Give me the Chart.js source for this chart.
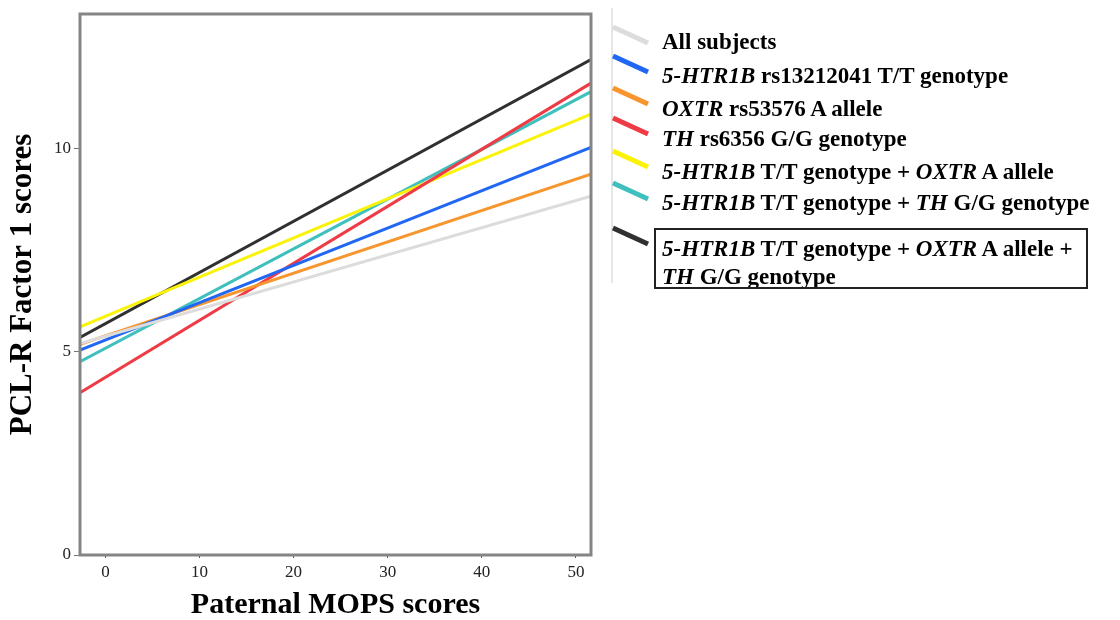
<!DOCTYPE html>
<html>
<head>
<meta charset="utf-8">
<script src="https://cdn.jsdelivr.net/npm/chart.js@4.4.1/dist/chart.umd.min.js"></script>
<style>
body{margin:0;background:#fff}
#wrap{position:relative;width:1120px;height:620px}
#legend{position:absolute;left:0;top:0;width:1120px;height:620px;font-family:"Liberation Serif","Times New Roman",serif;font-weight:bold;font-size:23px;color:#000;pointer-events:none}
.item{position:absolute;left:662px;white-space:nowrap;line-height:23px;height:23px}
.boxed{position:absolute;left:654px;top:228px;width:430px;height:57px;border:2px solid #222}
</style>
</head>
<body>
<div id="wrap">
<canvas id="chart" width="1120" height="620"></canvas>
<div id="legend"></div>
</div>
<script>
// x at the two ends of the plot, fitted line values
const xEnds = [-2.7, 51.6];
const allSubjects = [5.2, 8.82];
const htr1b = [5.04, 10.02];
const oxtr = [5.18, 9.36];
const th = [3.99, 11.6];
const htr1bOxtr = [5.61, 10.84];
const htr1bTh = [4.75, 11.39];
const htr1bOxtrTh = [5.35, 12.18];

const seriesNames = [
  'All subjects',
  '<i>5-HTR1B</i> rs13212041 T/T genotype',
  '<i>OXTR</i> rs53576 A allele',
  '<i>TH</i> rs6356 G/G genotype',
  '<i>5-HTR1B</i> T/T genotype + <i>OXTR</i> A allele',
  '<i>5-HTR1B</i> T/T genotype + <i>TH</i> G/G genotype',
  '<i>5-HTR1B</i> T/T genotype + <i>OXTR</i> A allele +<br><i>TH</i> G/G genotype'
];
const series = [allSubjects, htr1b, oxtr, th, htr1bOxtr, htr1bTh, htr1bOxtrTh];
const colors = ['#dcdcdc', '#2167f3', '#f7952f', '#ee3b45', '#fbf307', '#3fc0bd', '#303030'];

// legend layout
const rowY = [42, 76, 109, 139, 172, 203, 247];
const sampleY = [27, 56, 88, 118, 151, 183, 228];

let datasets = [];
for (let i = 0; i < series.length; i++) {
  datasets.push({
    label: seriesNames[i].replace(/<[^>]+>/g, ''),
    data: xEnds.map((x, j) => ({x: x, y: series[i][j]})),
    borderColor: colors[i],
    backgroundColor: colors[i],
    borderWidth: 3,
    pointRadius: 0,
    showLine: true,
    fill: false
  });
}

let leg = document.getElementById('legend');
for (let i = 0; i < seriesNames.length; i++) {
  let d = document.createElement('div');
  d.className = 'item';
  d.style.top = (rowY[i] - 12) + 'px';
  d.innerHTML = seriesNames[i];
  if (i == seriesNames.length - 1) d.style.lineHeight = '28px';
  leg.appendChild(d);
}
let box = document.createElement('div');
box.className = 'boxed';
leg.appendChild(box);

const frame = {
  id: 'frame',
  afterDatasetsDraw(chart) {
    const ctx = chart.ctx, a = chart.chartArea;
    ctx.save();
    ctx.strokeStyle = '#858585';
    ctx.lineWidth = 3;
    ctx.strokeRect(a.left, a.top, a.right - a.left, a.bottom - a.top);
    ctx.restore();
  },
  afterDraw(chart) {
    const ctx = chart.ctx;
    ctx.save();
    ctx.strokeStyle = '#e6e6e6';
    ctx.lineWidth = 2;
    ctx.beginPath();
    ctx.moveTo(612, 8);
    ctx.lineTo(612, 283);
    ctx.stroke();
    ctx.lineWidth = 5;
    ctx.lineCap = 'butt';
    for (let i = 0; i < colors.length; i++) {
      ctx.strokeStyle = colors[i];
      ctx.beginPath();
      ctx.moveTo(613, sampleY[i]);
      ctx.lineTo(648, sampleY[i] + 16);
      ctx.stroke();
    }
    ctx.restore();
  }
};

const serif = '"Liberation Serif", "Times New Roman", serif';

new Chart(document.getElementById('chart').getContext('2d'), {
  type: 'scatter',
  data: {datasets: datasets},
  options: {
    responsive: false,
    animation: false,
    layout: {padding: {top: 14, right: 529, left: 0, bottom: 0}},
    plugins: {legend: {display: false}, tooltip: {enabled: false}},
    scales: {
      x: {
        type: 'linear',
        min: xEnds[0],
        max: xEnds[1],
        afterFit: s => { s.height = 65; },
        ticks: {stepSize: 10, includeBounds: false, font: {family: serif, size: 17}, color: '#222', padding: 4},
        grid: {drawOnChartArea: false, tickLength: 3, color: '#555'},
        border: {display: false},
        title: {display: true, text: 'Paternal MOPS scores', color: '#000',
          font: {family: serif, size: 30, weight: 'bold', lineHeight: 1}, padding: {top: 0, bottom: 0}}
      },
      y: {
        min: 0,
        max: 13.3,
        afterFit: s => { s.width = 80; },
        ticks: {stepSize: 5, includeBounds: false, font: {family: serif, size: 17}, color: '#222', padding: 3},
        grid: {drawOnChartArea: false, tickLength: 6, color: '#777'},
        border: {display: false},
        title: {display: true, text: 'PCL-R Factor 1 scores', color: '#000',
          font: {family: serif, size: 31, weight: 'bold', lineHeight: 1}, padding: {top: 7, bottom: 0}}
      }
    }
  },
  plugins: [frame]
});
</script>
</body>
</html>
